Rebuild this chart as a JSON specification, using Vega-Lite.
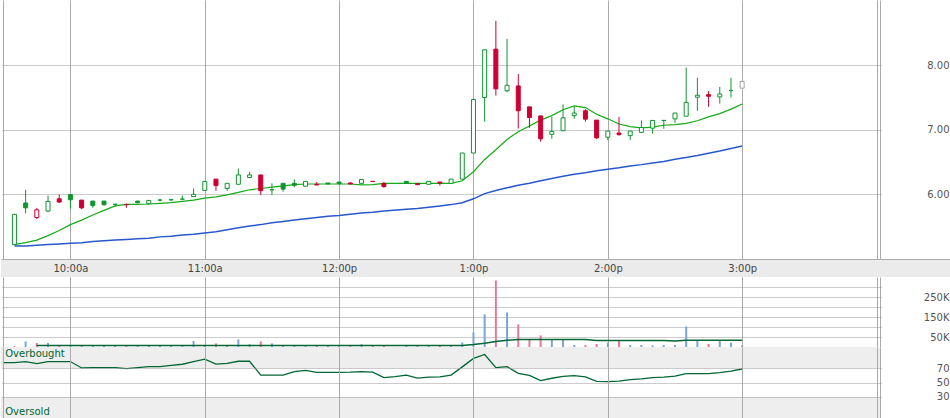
{
  "$schema": "https://vega.github.io/schema/vega-lite/v6.json",
  "padding": 0,
  "spacing": 0,
  "bounds": "flush",
  "background": "white",
  "config": {
    "view": {"stroke": null},
    "scale": {"continuousPadding": 0},
    "axis": {"labelFont": "DejaVu Sans", "labelFontSize": 10, "labelColor": "#555555", "labelOverlap": false}
  },
  "resolve": {"scale": {"color": "independent", "fill": "independent", "stroke": "independent"}},
  "data": {
    "format": {"parse": {"t": "utc:'%H:%M'"}},
    "values": [
      {"t":"09:35","o":5.22,"h":5.69,"l":5.22,"c":5.69,"dir":"up","hollow":true,"ma":5.22,"mb":5.2,"v":4000,"vdir":"down"},
      {"t":"09:40","o":5.865,"h":6.07,"l":5.705,"c":5.79,"dir":"up","hollow":false,"ma":5.25,"mb":5.2,"v":28000,"vdir":"up"},
      {"t":"09:45","o":5.64,"h":5.79,"l":5.615,"c":5.76,"dir":"down","hollow":true,"ma":5.29,"mb":5.21,"v":20000,"vdir":"down","vma":7000},
      {"t":"09:50","o":5.74,"h":5.98,"l":5.725,"c":5.89,"dir":"up","hollow":true,"ma":5.36,"mb":5.22,"v":20000,"vdir":"up","vma":7000},
      {"t":"09:55","o":5.93,"h":5.995,"l":5.865,"c":5.88,"dir":"down","hollow":false,"ma":5.44,"mb":5.23,"v":7000,"vdir":"down","vma":7000},
      {"t":"10:00","o":5.995,"h":5.995,"l":5.775,"c":5.915,"dir":"up","hollow":false,"ma":5.53,"mb":5.24,"v":6000,"vdir":"up","vma":7000},
      {"t":"10:05","o":5.91,"h":5.91,"l":5.77,"c":5.79,"dir":"down","hollow":false,"ma":5.6,"mb":5.25,"v":6000,"vdir":"down","vma":7000},
      {"t":"10:10","o":5.895,"h":5.895,"l":5.79,"c":5.825,"dir":"up","hollow":false,"ma":5.68,"mb":5.27,"v":6000,"vdir":"up","vma":7000},
      {"t":"10:15","o":5.895,"h":5.895,"l":5.82,"c":5.84,"dir":"up","hollow":false,"ma":5.75,"mb":5.28,"v":6000,"vdir":"up","vma":7000},
      {"t":"10:20","o":5.845,"h":5.85,"l":5.81,"c":5.845,"dir":"up","hollow":false,"ma":5.82,"mb":5.29,"v":6000,"vdir":"up","vma":7000},
      {"t":"10:25","o":5.84,"h":5.855,"l":5.79,"c":5.84,"dir":"down","hollow":false,"ma":5.845,"mb":5.3,"v":6000,"vdir":"down","vma":7000},
      {"t":"10:30","o":5.895,"h":5.895,"l":5.86,"c":5.87,"dir":"up","hollow":false,"ma":5.845,"mb":5.31,"v":6000,"vdir":"up","vma":7000},
      {"t":"10:35","o":5.855,"h":5.905,"l":5.84,"c":5.905,"dir":"up","hollow":true,"ma":5.85,"mb":5.32,"v":6000,"vdir":"up","vma":7000},
      {"t":"10:40","o":5.91,"h":5.93,"l":5.89,"c":5.91,"dir":"up","hollow":false,"ma":5.86,"mb":5.34,"v":6000,"vdir":"up","vma":7000},
      {"t":"10:45","o":5.915,"h":5.925,"l":5.9,"c":5.915,"dir":"up","hollow":false,"ma":5.87,"mb":5.35,"v":6000,"vdir":"up","vma":7000},
      {"t":"10:50","o":5.925,"h":5.98,"l":5.925,"c":5.925,"dir":"up","hollow":false,"ma":5.89,"mb":5.37,"v":6000,"vdir":"up","vma":7000},
      {"t":"10:55","o":5.965,"h":6.09,"l":5.955,"c":6.0,"dir":"up","hollow":true,"ma":5.91,"mb":5.38,"v":30000,"vdir":"up","vma":7000},
      {"t":"11:00","o":6.06,"h":6.2,"l":6.06,"c":6.2,"dir":"up","hollow":true,"ma":5.94,"mb":5.4,"v":6000,"vdir":"up","vma":7000},
      {"t":"11:05","o":6.235,"h":6.235,"l":6.055,"c":6.135,"dir":"down","hollow":false,"ma":5.96,"mb":5.42,"v":18000,"vdir":"down","vma":7000},
      {"t":"11:10","o":6.09,"h":6.17,"l":6.055,"c":6.17,"dir":"up","hollow":true,"ma":5.99,"mb":5.45,"v":6000,"vdir":"up","vma":7000},
      {"t":"11:15","o":6.155,"h":6.4,"l":6.155,"c":6.3,"dir":"up","hollow":true,"ma":6.03,"mb":5.48,"v":38000,"vdir":"up","vma":7000},
      {"t":"11:20","o":6.26,"h":6.35,"l":6.26,"c":6.3,"dir":"up","hollow":true,"ma":6.07,"mb":5.51,"v":14000,"vdir":"up","vma":7000},
      {"t":"11:25","o":6.3,"h":6.3,"l":5.99,"c":6.055,"dir":"down","hollow":false,"ma":6.09,"mb":5.53,"v":28000,"vdir":"down","vma":7000},
      {"t":"11:30","o":6.07,"h":6.17,"l":5.99,"c":6.07,"dir":"up","hollow":false,"ma":6.11,"mb":5.56,"v":18000,"vdir":"up","vma":7000},
      {"t":"11:35","o":6.17,"h":6.17,"l":6.04,"c":6.08,"dir":"up","hollow":false,"ma":6.13,"mb":5.58,"v":6000,"vdir":"up","vma":7000},
      {"t":"11:40","o":6.17,"h":6.23,"l":6.11,"c":6.14,"dir":"up","hollow":false,"ma":6.15,"mb":5.6,"v":6000,"vdir":"up","vma":7000},
      {"t":"11:45","o":6.125,"h":6.2,"l":6.125,"c":6.2,"dir":"up","hollow":true,"ma":6.16,"mb":5.62,"v":6000,"vdir":"up","vma":7000},
      {"t":"11:50","o":6.155,"h":6.19,"l":6.14,"c":6.145,"dir":"down","hollow":false,"ma":6.16,"mb":5.64,"v":6000,"vdir":"down","vma":7000},
      {"t":"11:55","o":6.175,"h":6.175,"l":6.16,"c":6.16,"dir":"up","hollow":false,"ma":6.16,"mb":5.66,"v":6000,"vdir":"up","vma":7000},
      {"t":"12:00","o":6.19,"h":6.19,"l":6.155,"c":6.165,"dir":"up","hollow":false,"ma":6.16,"mb":5.67,"v":6000,"vdir":"up","vma":7000},
      {"t":"12:05","o":6.175,"h":6.19,"l":6.155,"c":6.16,"dir":"down","hollow":false,"ma":6.16,"mb":5.69,"v":6000,"vdir":"down","vma":7000},
      {"t":"12:10","o":6.17,"h":6.23,"l":6.17,"c":6.23,"dir":"up","hollow":true,"ma":6.145,"mb":5.71,"v":14000,"vdir":"up","vma":7000},
      {"t":"12:15","o":6.2,"h":6.205,"l":6.195,"c":6.2,"dir":"down","hollow":false,"ma":6.15,"mb":5.72,"v":6000,"vdir":"down","vma":7000},
      {"t":"12:20","o":6.17,"h":6.19,"l":6.1,"c":6.12,"dir":"down","hollow":false,"ma":6.17,"mb":5.74,"v":6000,"vdir":"down","vma":7000},
      {"t":"12:30","o":6.2,"h":6.2,"l":6.17,"c":6.17,"dir":"up","hollow":false,"ma":6.17,"mb":5.77,"v":6000,"vdir":"up","vma":7000},
      {"t":"12:35","o":6.165,"h":6.17,"l":6.14,"c":6.15,"dir":"down","hollow":false,"ma":6.17,"mb":5.78,"v":6000,"vdir":"down","vma":7000},
      {"t":"12:40","o":6.155,"h":6.2,"l":6.155,"c":6.2,"dir":"up","hollow":true,"ma":6.17,"mb":5.8,"v":6000,"vdir":"up","vma":7000},
      {"t":"12:45","o":6.19,"h":6.19,"l":6.135,"c":6.175,"dir":"down","hollow":false,"ma":6.17,"mb":5.82,"v":6000,"vdir":"down","vma":7000},
      {"t":"12:50","o":6.17,"h":6.235,"l":6.17,"c":6.235,"dir":"up","hollow":true,"ma":6.17,"mb":5.84,"v":6000,"vdir":"up","vma":7000},
      {"t":"12:55","o":6.235,"h":6.64,"l":6.235,"c":6.64,"dir":"up","hollow":true,"ma":6.21,"mb":5.87,"v":23000,"vdir":"up","vma":8000},
      {"t":"13:00","o":6.64,"h":7.47,"l":6.64,"c":7.47,"dir":"up","hollow":true,"ma":6.35,"mb":5.93,"v":73000,"vdir":"up","vma":12000},
      {"t":"13:05","o":7.5,"h":8.25,"l":7.125,"c":8.24,"dir":"up","hollow":true,"ma":6.54,"mb":6.01,"v":163000,"vdir":"up","vma":18500},
      {"t":"13:10","o":8.25,"h":8.69,"l":7.53,"c":7.635,"dir":"down","hollow":false,"ma":6.69,"mb":6.06,"v":333000,"vdir":"down","vma":27000},
      {"t":"13:15","o":7.605,"h":8.41,"l":7.585,"c":7.69,"dir":"up","hollow":true,"ma":6.85,"mb":6.1,"v":173000,"vdir":"up","vma":33500},
      {"t":"13:20","o":7.68,"h":7.865,"l":7.02,"c":7.295,"dir":"down","hollow":false,"ma":6.97,"mb":6.14,"v":113000,"vdir":"down","vma":37000},
      {"t":"13:25","o":7.355,"h":7.355,"l":7.03,"c":7.19,"dir":"down","hollow":false,"ma":7.06,"mb":6.17,"v":37000,"vdir":"down","vma":37000},
      {"t":"13:30","o":7.215,"h":7.215,"l":6.815,"c":6.86,"dir":"down","hollow":false,"ma":7.15,"mb":6.21,"v":58000,"vdir":"down","vma":37000},
      {"t":"13:35","o":6.93,"h":7.2,"l":6.86,"c":6.975,"dir":"up","hollow":true,"ma":7.22,"mb":6.245,"v":37000,"vdir":"up","vma":37000},
      {"t":"13:40","o":6.985,"h":7.395,"l":6.985,"c":7.185,"dir":"up","hollow":true,"ma":7.31,"mb":6.28,"v":37000,"vdir":"up","vma":37000},
      {"t":"13:45","o":7.22,"h":7.355,"l":7.17,"c":7.26,"dir":"up","hollow":true,"ma":7.37,"mb":6.31,"v":10000,"vdir":"up","vma":37000},
      {"t":"13:50","o":7.295,"h":7.32,"l":7.125,"c":7.165,"dir":"down","hollow":false,"ma":7.345,"mb":6.335,"v":10000,"vdir":"down","vma":37000},
      {"t":"13:55","o":7.15,"h":7.15,"l":6.855,"c":6.875,"dir":"down","hollow":false,"ma":7.24,"mb":6.365,"v":15000,"vdir":"down","vma":32000},
      {"t":"14:00","o":6.885,"h":6.98,"l":6.84,"c":6.98,"dir":"up","hollow":true,"ma":7.17,"mb":6.39,"v":22000,"vdir":"up","vma":32000},
      {"t":"14:05","o":6.95,"h":7.2,"l":6.91,"c":6.925,"dir":"down","hollow":false,"ma":7.09,"mb":6.41,"v":30000,"vdir":"down","vma":32000},
      {"t":"14:10","o":6.91,"h":6.98,"l":6.84,"c":6.98,"dir":"up","hollow":true,"ma":7.05,"mb":6.44,"v":10000,"vdir":"up","vma":32000},
      {"t":"14:15","o":6.96,"h":7.145,"l":6.96,"c":7.035,"dir":"up","hollow":true,"ma":7.03,"mb":6.46,"v":10000,"vdir":"up","vma":32000},
      {"t":"14:20","o":7.025,"h":7.145,"l":6.94,"c":7.145,"dir":"up","hollow":true,"ma":7.04,"mb":6.485,"v":8000,"vdir":"up","vma":32000},
      {"t":"14:25","o":7.145,"h":7.15,"l":7.015,"c":7.145,"dir":"up","hollow":false,"ma":7.07,"mb":6.51,"v":10000,"vdir":"up","vma":32000},
      {"t":"14:30","o":7.17,"h":7.26,"l":7.105,"c":7.26,"dir":"up","hollow":true,"ma":7.08,"mb":6.545,"v":10000,"vdir":"up","vma":30000},
      {"t":"14:35","o":7.21,"h":7.965,"l":7.21,"c":7.425,"dir":"up","hollow":true,"ma":7.1,"mb":6.57,"v":103000,"vdir":"up","vma":33500},
      {"t":"14:40","o":7.505,"h":7.805,"l":7.295,"c":7.535,"dir":"up","hollow":true,"ma":7.14,"mb":6.6,"v":32000,"vdir":"up","vma":33500},
      {"t":"14:45","o":7.545,"h":7.6,"l":7.355,"c":7.52,"dir":"down","hollow":false,"ma":7.2,"mb":6.635,"v":15000,"vdir":"down","vma":33500},
      {"t":"14:50","o":7.51,"h":7.665,"l":7.405,"c":7.555,"dir":"up","hollow":true,"ma":7.25,"mb":6.67,"v":32000,"vdir":"up","vma":33500},
      {"t":"14:55","o":7.61,"h":7.805,"l":7.5,"c":7.61,"dir":"up","hollow":false,"ma":7.32,"mb":6.71,"v":22000,"vdir":"up","vma":33500},
      {"t":"15:00","o":7.645,"h":7.75,"l":7.645,"c":7.75,"dir":"flat","hollow":true,"ma":7.4,"mb":6.75,"v":8000,"vdir":"flat","vma":33500}
    ]
  },
  "vconcat": [
    {
      "width": 880,
      "height": 259,
      "layer": [
        {
          "mark": {"type": "line", "color": "#2858cc", "strokeWidth": 1.5},
          "encoding": {
            "x": {
              "field": "t", "type": "temporal",
              "scale": {"type": "utc", "padding": 0, "domain": [
                {"year":1900,"month":1,"date":1,"hours":9,"minutes":29,"utc":true},
                {"year":1900,"month":1,"date":1,"hours":16,"minutes":2,"utc":true}]},
              "axis": {
                "values": [
                  {"year":1900,"month":1,"date":1,"hours":9,"minutes":30,"utc":true},
                  {"year":1900,"month":1,"date":1,"hours":10,"minutes":0,"utc":true},
                  {"year":1900,"month":1,"date":1,"hours":11,"minutes":0,"utc":true},
                  {"year":1900,"month":1,"date":1,"hours":12,"minutes":0,"utc":true},
                  {"year":1900,"month":1,"date":1,"hours":13,"minutes":0,"utc":true},
                  {"year":1900,"month":1,"date":1,"hours":14,"minutes":0,"utc":true},
                  {"year":1900,"month":1,"date":1,"hours":15,"minutes":0,"utc":true},
                  {"year":1900,"month":1,"date":1,"hours":16,"minutes":0,"utc":true},
                  {"year":1900,"month":1,"date":1,"hours":16,"minutes":1,"seconds":36,"utc":true}],
                "tickCount": 50,
                "grid": true, "gridColor": "#aaaaaa", "gridDash": [], "gridWidth": 1,
                "labels": false, "ticks": false, "tickSize": 0, "domain": false, "title": null
              }
            },
            "y": {
              "field": "mb", "type": "quantitative",
              "scale": {"domain": [4.997, 9.012], "nice": false, "zero": false, "padding": 0},
              "axis": {
                "orient": "right", "values": [6, 7, 8], "format": ".2f", "tickCount": 20,
                "grid": true, "gridColor": "#999999", "gridDash": [1, 1],
                "domain": false, "ticks": false, "tickSize": 0, "labelOverlap": false,
                "labelAlign": "right", "labelBaseline": "middle", "labelPadding": 68, "title": null
              }
            }
          }
        },
        {
          "mark": {"type": "line", "color": "#16aa16", "strokeWidth": 1.2},
          "encoding": {
            "x": {"field": "t", "type": "temporal"},
            "y": {"field": "ma", "type": "quantitative"}
          }
        },
        {
          "mark": {"type": "rule", "strokeWidth": 1},
          "encoding": {
            "x": {"field": "t", "type": "temporal"},
            "y": {"field": "l", "type": "quantitative"},
            "y2": {"field": "h"},
            "color": {"field": "dir", "type": "nominal", "scale": {"domain": ["up", "down", "flat"], "range": ["#119530", "#cc0033", "#a0a0a0"]}, "legend": null}
          }
        },
        {
          "mark": {"type": "bar", "width": 4, "strokeWidth": 1},
          "encoding": {
            "x": {"field": "t", "type": "temporal"},
            "y": {"field": "o", "type": "quantitative"},
            "y2": {"field": "c"},
            "stroke": {"field": "dir", "type": "nominal", "scale": {"domain": ["up", "down", "flat"], "range": ["#119530", "#cc0033", "#a0a0a0"]}, "legend": null},
            "fill": {
              "condition": {"test": "datum.hollow", "value": "#ffffff"},
              "field": "dir", "type": "nominal",
              "scale": {"domain": ["up", "down", "flat"], "range": ["#119530", "#cc0033", "#a0a0a0"]}, "legend": null
            }
          }
        }
      ]
    },
    {
      "width": 950,
      "height": 18,
      "view": {"fill": "#ebebeb", "stroke": null},
      "mark": {"type": "tick", "opacity": 0},
      "encoding": {
        "x": {
          "field": "t", "type": "temporal",
          "scale": {"type": "utc", "padding": 0, "domain": [
            {"year":1900,"month":1,"date":1,"hours":9,"minutes":29,"utc":true},
            {"year":1900,"month":1,"date":1,"hours":16,"minutes":33,"seconds":15,"utc":true}]},
          "axis": {
            "orient": "top",
            "values": [
              {"year":1900,"month":1,"date":1,"hours":10,"minutes":0,"utc":true},
              {"year":1900,"month":1,"date":1,"hours":11,"minutes":0,"utc":true},
              {"year":1900,"month":1,"date":1,"hours":12,"minutes":0,"utc":true},
              {"year":1900,"month":1,"date":1,"hours":13,"minutes":0,"utc":true},
              {"year":1900,"month":1,"date":1,"hours":14,"minutes":0,"utc":true},
              {"year":1900,"month":1,"date":1,"hours":15,"minutes":0,"utc":true}],
            "tickCount": 50,
            "labelExpr": "utcFormat(datum.value, '%-I:%M') + (utchours(datum.value) < 12 ? 'a' : 'p')",
            "domain": true, "domainColor": "#aaaaaa", "domainWidth": 1,
            "ticks": false, "tickSize": 0, "grid": false,
            "labelPadding": -12, "labelBaseline": "alphabetic", "labelColor": "#444444",
            "labelFlush": false, "title": null
          }
        }
      }
    },
    {
      "width": 880,
      "height": 70,
      "layer": [
        {
          "mark": {"type": "bar", "width": 2},
          "encoding": {
            "x": {
              "field": "t", "type": "temporal",
              "scale": {"type": "utc", "padding": 0, "domain": [
                {"year":1900,"month":1,"date":1,"hours":9,"minutes":29,"utc":true},
                {"year":1900,"month":1,"date":1,"hours":16,"minutes":2,"utc":true}]},
              "axis": {
                "values": [
                  {"year":1900,"month":1,"date":1,"hours":9,"minutes":30,"utc":true},
                  {"year":1900,"month":1,"date":1,"hours":10,"minutes":0,"utc":true},
                  {"year":1900,"month":1,"date":1,"hours":11,"minutes":0,"utc":true},
                  {"year":1900,"month":1,"date":1,"hours":12,"minutes":0,"utc":true},
                  {"year":1900,"month":1,"date":1,"hours":13,"minutes":0,"utc":true},
                  {"year":1900,"month":1,"date":1,"hours":14,"minutes":0,"utc":true},
                  {"year":1900,"month":1,"date":1,"hours":15,"minutes":0,"utc":true},
                  {"year":1900,"month":1,"date":1,"hours":16,"minutes":0,"utc":true},
                  {"year":1900,"month":1,"date":1,"hours":16,"minutes":1,"seconds":36,"utc":true}],
                "tickCount": 50,
                "grid": true, "gridColor": "#aaaaaa", "gridDash": [], "gridWidth": 1,
                "labels": false, "ticks": false, "tickSize": 0, "domain": false, "title": null
              }
            },
            "y": {
              "field": "v", "type": "quantitative", "stack": null,
              "scale": {"domain": [0, 350000], "nice": false, "zero": false, "padding": 0},
              "axis": {
                "orient": "right", "values": [50000, 100000, 150000, 200000, 250000, 300000], "tickCount": 20,
                "labelExpr": "datum.value % 100000 == 50000 ? (datum.value / 1000) + 'K' : ''",
                "grid": true, "gridColor": "#999999", "gridDash": [1, 1],
                "domain": false, "ticks": false, "tickSize": 0, "labelOverlap": false,
                "labelAlign": "right", "labelBaseline": "middle", "labelPadding": 68, "title": null
              }
            },
            "color": {"field": "vdir", "type": "nominal", "scale": {"domain": ["up", "down", "flat"], "range": ["#78a6d8", "#e5799a", "#999999"]}, "legend": null}
          }
        },
        {
          "transform": [{"filter": {"field": "vma", "valid": true}}],
          "mark": {"type": "line", "color": "#006633", "strokeWidth": 1.5},
          "encoding": {
            "x": {"field": "t", "type": "temporal"},
            "y": {"field": "vma", "type": "quantitative"}
          }
        }
      ]
    },
    {
      "width": 880,
      "height": 71,
      "layer": [
        {
          "data": {"values": [{"zone": "overbought", "lo": 70, "hi": 100}, {"zone": "oversold", "lo": 0, "hi": 30}]},
          "mark": {"type": "rect", "color": "#eeeeee"},
          "encoding": {
            "x": {
              "datum": {"year":1900,"month":1,"date":1,"hours":9,"minutes":29,"utc":true}, "type": "temporal",
              "scale": {"type": "utc", "padding": 0, "domain": [
                {"year":1900,"month":1,"date":1,"hours":9,"minutes":29,"utc":true},
                {"year":1900,"month":1,"date":1,"hours":16,"minutes":2,"utc":true}]},
              "axis": {
                "values": [
                  {"year":1900,"month":1,"date":1,"hours":9,"minutes":30,"utc":true},
                  {"year":1900,"month":1,"date":1,"hours":10,"minutes":0,"utc":true},
                  {"year":1900,"month":1,"date":1,"hours":11,"minutes":0,"utc":true},
                  {"year":1900,"month":1,"date":1,"hours":12,"minutes":0,"utc":true},
                  {"year":1900,"month":1,"date":1,"hours":13,"minutes":0,"utc":true},
                  {"year":1900,"month":1,"date":1,"hours":14,"minutes":0,"utc":true},
                  {"year":1900,"month":1,"date":1,"hours":15,"minutes":0,"utc":true},
                  {"year":1900,"month":1,"date":1,"hours":16,"minutes":0,"utc":true},
                  {"year":1900,"month":1,"date":1,"hours":16,"minutes":1,"seconds":36,"utc":true}],
                "tickCount": 50,
                "grid": true, "gridColor": "#aaaaaa", "gridDash": [], "gridWidth": 1, "zindex": 1,
                "labels": false, "ticks": false, "tickSize": 0, "domain": false, "title": null
              }
            },
            "x2": {"datum": {"year":1900,"month":1,"date":1,"hours":16,"minutes":2,"utc":true}},
            "y": {
              "field": "lo", "type": "quantitative",
              "scale": {"domain": [0, 100], "nice": false, "zero": false, "padding": 0},
              "axis": {
                "orient": "right", "values": [30, 50, 70], "zindex": 1, "tickCount": 20,
                "grid": true, "gridColor": "#999999", "gridDash": [1, 1],
                "domain": false, "ticks": false, "tickSize": 0, "labelOverlap": false,
                "labelAlign": "right", "labelBaseline": "middle", "labelPadding": 68, "title": null
              }
            },
            "y2": {"field": "hi"}
          }
        },
        {
          "data": {
            "format": {"parse": {"t": "utc:'%H:%M'"}},
            "values": [
              {"t":"09:30","rsi":78},{"t":"09:35","rsi":78},{"t":"09:40","rsi":79.5},{"t":"09:45","rsi":76.5},
              {"t":"09:50","rsi":79.5},{"t":"09:55","rsi":79.5},{"t":"10:00","rsi":79.5},{"t":"10:05","rsi":70.5},
              {"t":"10:10","rsi":71},{"t":"10:15","rsi":71},{"t":"10:20","rsi":71},{"t":"10:25","rsi":69.6},
              {"t":"10:30","rsi":71},{"t":"10:35","rsi":72.4},{"t":"10:40","rsi":72.4},{"t":"10:45","rsi":74.2},
              {"t":"10:50","rsi":75.7},{"t":"10:55","rsi":79.5},{"t":"11:00","rsi":82.8},{"t":"11:05","rsi":76},
              {"t":"11:10","rsi":77},{"t":"11:15","rsi":79.9},{"t":"11:20","rsi":79.9},{"t":"11:25","rsi":60.5},
              {"t":"11:30","rsi":60.5},{"t":"11:35","rsi":60.5},{"t":"11:40","rsi":65.3},{"t":"11:45","rsi":67.2},
              {"t":"11:50","rsi":64.3},{"t":"11:55","rsi":64.3},{"t":"12:00","rsi":64.3},{"t":"12:05","rsi":64.5},
              {"t":"12:10","rsi":65.3},{"t":"12:15","rsi":64.5},{"t":"12:20","rsi":57},{"t":"12:25","rsi":58.3},
              {"t":"12:30","rsi":60.5},{"t":"12:35","rsi":56.3},{"t":"12:40","rsi":57.5},{"t":"12:45","rsi":58},
              {"t":"12:50","rsi":60.5},{"t":"12:55","rsi":72},{"t":"13:00","rsi":84},{"t":"13:05","rsi":89.5},
              {"t":"13:10","rsi":71},{"t":"13:15","rsi":72.4},{"t":"13:20","rsi":63},{"t":"13:25","rsi":60},
              {"t":"13:30","rsi":52.6},{"t":"13:35","rsi":56},{"t":"13:40","rsi":58.5},{"t":"13:45","rsi":59.7},
              {"t":"13:50","rsi":58},{"t":"13:55","rsi":51.5},{"t":"14:00","rsi":51.2},{"t":"14:05","rsi":52},
              {"t":"14:10","rsi":54},{"t":"14:15","rsi":55},{"t":"14:20","rsi":57},{"t":"14:25","rsi":57.5},
              {"t":"14:30","rsi":59},{"t":"14:35","rsi":62.5},{"t":"14:40","rsi":62.5},{"t":"14:45","rsi":62.5},
              {"t":"14:50","rsi":64},{"t":"14:55","rsi":66},{"t":"15:00","rsi":69}
            ]
          },
          "mark": {"type": "line", "color": "#006633", "strokeWidth": 1.3},
          "encoding": {
            "x": {"field": "t", "type": "temporal"},
            "y": {"field": "rsi", "type": "quantitative"}
          }
        },
        {
          "data": {"format": {"parse": {"t": "utc:'%H:%M'"}}, "values": [{"t": "09:30", "label": "Overbought", "level": 100}]},
          "mark": {"type": "text", "align": "left", "baseline": "alphabetic", "dx": 2, "dy": 10, "font": "DejaVu Sans", "fontSize": 10, "color": "#006633"},
          "encoding": {
            "x": {"field": "t", "type": "temporal"},
            "y": {"field": "level", "type": "quantitative"},
            "text": {"field": "label"}
          }
        },
        {
          "data": {"format": {"parse": {"t": "utc:'%H:%M'"}}, "values": [{"t": "09:30", "label": "Oversold", "level": 0}]},
          "mark": {"type": "text", "align": "left", "baseline": "alphabetic", "dx": 2, "dy": -3, "font": "DejaVu Sans", "fontSize": 10, "color": "#006633"},
          "encoding": {
            "x": {"field": "t", "type": "temporal"},
            "y": {"field": "level", "type": "quantitative"},
            "text": {"field": "label"}
          }
        }
      ]
    }
  ]
}
